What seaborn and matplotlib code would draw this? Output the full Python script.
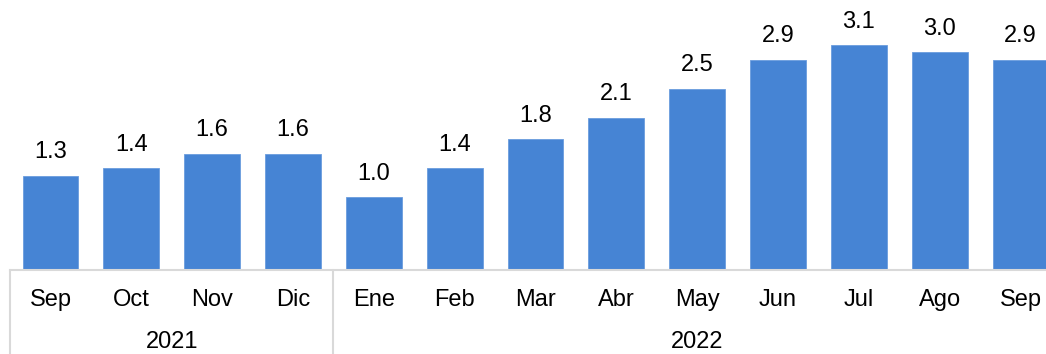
import matplotlib
matplotlib.use("Agg")
import matplotlib.pyplot as plt
import matplotlib.transforms as mtransforms
import seaborn as sns
import pandas as pd

# Monthly values, Sep 2021 - Sep 2022
months = ["Sep", "Oct", "Nov", "Dic", "Ene", "Feb", "Mar", "Abr", "May",
          "Jun", "Jul", "Ago", "Sep"]
years = ["2021"] * 4 + ["2022"] * 9
values = [1.3, 1.4, 1.6, 1.6, 1.0, 1.4, 1.8, 2.1, 2.5, 2.9, 3.1, 3.0, 2.9]
year_labels = ["2021", "2022"]

df = pd.DataFrame({
    "period": [f"{m} {y}" for m, y in zip(months, years)],
    "value": values,
})

sns.set_theme(style="white")
plt.rcParams["font.family"] = ["Liberation Sans", "DejaVu Sans"]

W, H = 1046, 354
fig = plt.figure(figsize=(W / 100, H / 100), dpi=100)
# axes runs slightly past the right edge of the figure
ax = fig.add_axes([10 / W, 84 / H, 1051 / W, 270 / H])

bar_color = "#4684D4"
sns.barplot(data=df, x="period", y="value", color=bar_color, width=0.69,
            saturation=1, edgecolor="#6A9CDE", linewidth=0.6, ax=ax)

ax.set_xlim(-0.5, len(values) - 0.5)
ax.set_ylim(0, 3.72)
ax.set_xlabel("")
ax.set_ylabel("")
ax.set_yticks([])

fs = 17
grid_col = "#D9D9D9"
for side in ["left", "right", "top"]:
    ax.spines[side].set_visible(False)
ax.spines["bottom"].set_color(grid_col)
ax.spines["bottom"].set_linewidth(1.5)

ax.set_xticks(range(len(months)))
ax.set_xticklabels(months, fontsize=fs, color="black")
ax.tick_params(axis="x", length=0, pad=14)

# value labels
for i, v in enumerate(values):
    ax.annotate(f"{v:.1f}", (i, v), xytext=(0, 9), textcoords="offset points",
                ha="center", va="bottom", fontsize=fs, color="black")

# year grouping on the category axis
trans = mtransforms.blended_transform_factory(ax.transData, ax.transAxes)
group_edges = [-0.5, 3.5, len(values) - 0.5]
for xe in group_edges:
    ax.plot([xe, xe], [0, -0.32], transform=trans, color=grid_col, lw=1.5,
            clip_on=False)
for k, yl in enumerate(year_labels):
    xc = (group_edges[k] + group_edges[k + 1]) / 2
    ax.text(xc, -0.265, yl, transform=trans, ha="center", va="center",
            fontsize=fs, color="black")

fig.savefig("out.png", dpi=100)
